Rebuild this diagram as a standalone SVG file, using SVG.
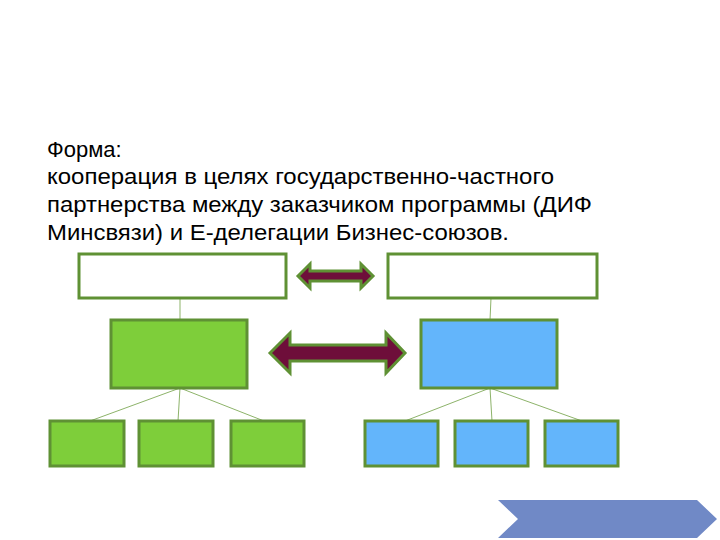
<svg xmlns="http://www.w3.org/2000/svg" width="720" height="540" viewBox="0 0 720 540">
<style>
.t{font-family:"Liberation Sans",Arial,sans-serif;font-size:22px;fill:#000}
.b{stroke:#5f9134;stroke-width:3}
.w{fill:#fff}.g{fill:#7ece3a}.u{fill:#63b5fb}
.c{stroke:#8db36a;stroke-width:1;fill:none}
.a{fill:#6e0e3a;stroke:#5f9134;stroke-width:3;stroke-linejoin:miter}
</style>
<rect width="720" height="540" fill="#fff"/>
<text class="t" x="47" y="157">Форма:</text>
<text class="t" x="47" y="184" textLength="507" lengthAdjust="spacingAndGlyphs">кооперация в целях государственно-частного</text>
<text class="t" x="47" y="212" textLength="545" lengthAdjust="spacingAndGlyphs">партнерства между заказчиком программы (ДИФ</text>
<text class="t" x="47" y="240" textLength="462" lengthAdjust="spacingAndGlyphs">Минсвязи) и Е-делегации Бизнес-союзов.</text>
<g id="connectors">
<line class="c" x1="180" y1="298" x2="180" y2="320"/>
<line class="c" x1="491" y1="298" x2="490" y2="320"/>
<line class="c" x1="180" y1="388" x2="90" y2="421"/>
<line class="c" x1="180" y1="388" x2="178" y2="421"/>
<line class="c" x1="180" y1="388" x2="264" y2="421"/>
<line class="c" x1="490" y1="388" x2="405" y2="421"/>
<line class="c" x1="490" y1="388" x2="492" y2="421"/>
<line class="c" x1="490" y1="388" x2="582" y2="421"/>
</g>
<g id="arrow1"><path class="a" d="M298 276 L310 264 L310 271 L361 271 L361 264 L373 276 L361 288 L361 281 L310 281 L310 288 Z"/></g>
<g id="arrow2"><path class="a" d="M270 353 L290 333 L290 345 L386 345 L386 333 L405 353 L386 373 L386 361 L290 361 L290 373 Z"/></g>
<g id="top1"><rect class="b w" x="79" y="254" width="207" height="44"/></g>
<g id="top2"><rect class="b w" x="388" y="254" width="209" height="44"/></g>
<g id="mid1"><rect class="b g" x="111" y="320" width="136" height="68"/></g>
<g id="mid2"><rect class="b u" x="421" y="320" width="136" height="68"/></g>
<g id="g1"><rect class="b g" x="50" y="421" width="74" height="45"/></g>
<g id="g2"><rect class="b g" x="139" y="421" width="74" height="45"/></g>
<g id="g3"><rect class="b g" x="231" y="421" width="73" height="45"/></g>
<g id="b1"><rect class="b u" x="365" y="421" width="73" height="45"/></g>
<g id="b2"><rect class="b u" x="455" y="421" width="73" height="45"/></g>
<g id="b3"><rect class="b u" x="545" y="421" width="73" height="45"/></g>
<g id="chevron"><path d="M498 500 L697 500 L717 519 L697 538 L498 538 L518 519 Z" fill="#7089c6"/></g>
</svg>
